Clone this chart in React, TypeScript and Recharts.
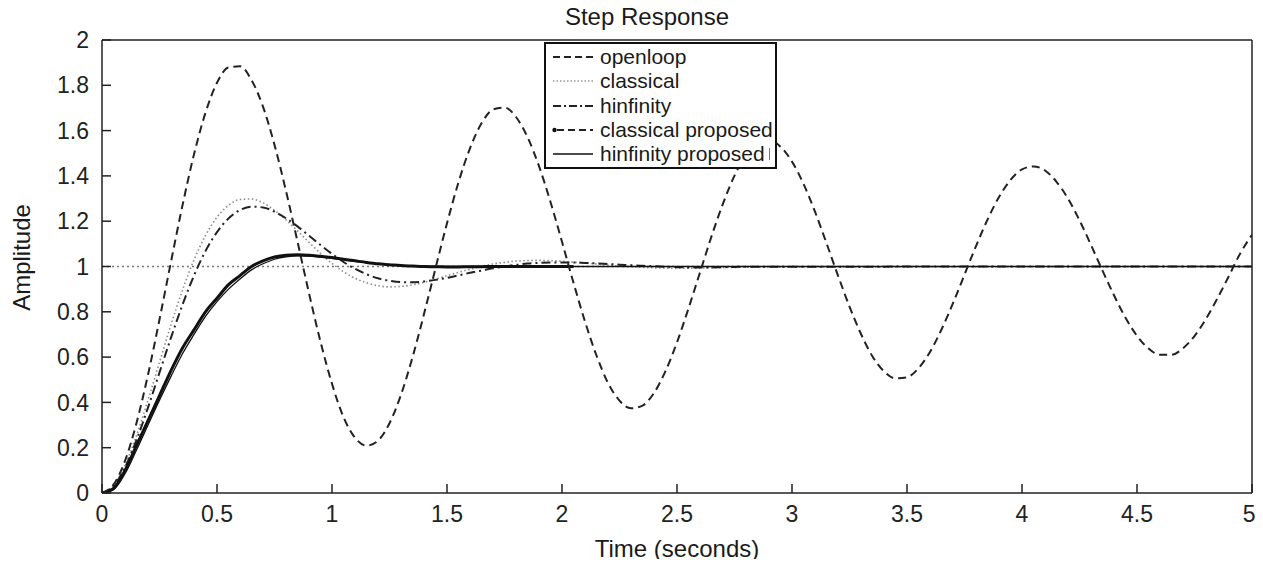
import React from "react";
import { LineChart, Line, XAxis, YAxis, ReferenceLine, Legend } from "recharts";

const FONT = '"Liberation Sans", Arial, Helvetica, sans-serif';

// sample grid of the step response, 0.05 s
const T = Array.from({ length: 101 }, (_, i) => Math.round(i * 5) / 100);
const xTicks = [0, 0.5, 1, 1.5, 2, 2.5, 3, 3.5, 4, 4.5, 5];
const yTicks = [0, 0.2, 0.4, 0.6, 0.8, 1, 1.2, 1.4, 1.6, 1.8, 2];

const openloop = [
  0, 0.037, 0.142, 0.309, 0.522, 0.766, 1.021, 1.27, 1.495, 1.679, 1.811,
  1.879, 1.884, 1.823, 1.706, 1.537, 1.333, 1.11, 0.882, 0.668, 0.482, 0.335,
  0.244, 0.209, 0.231, 0.308, 0.434, 0.599, 0.79, 0.992, 1.191, 1.372, 1.522,
  1.632, 1.693, 1.702, 1.66, 1.571, 1.443, 1.285, 1.109, 0.928, 0.757, 0.607,
  0.486, 0.408, 0.374, 0.386, 0.442, 0.538, 0.665, 0.815, 0.974, 1.133, 1.278,
  1.401, 1.492, 1.546, 1.557, 1.529, 1.463, 1.365, 1.242, 1.103, 0.96, 0.823,
  0.702, 0.603, 0.537, 0.506, 0.511, 0.551, 0.623, 0.722, 0.838, 0.964, 1.09,
  1.207, 1.307, 1.382, 1.429, 1.442, 1.424, 1.374, 1.3, 1.204, 1.095, 0.982,
  0.873, 0.774, 0.694, 0.638, 0.61, 0.61, 0.639, 0.693, 0.769, 0.86, 0.959,
  1.06, 1.14,
];

const classical = [
  0, 0.033, 0.123, 0.254, 0.41, 0.577, 0.743, 0.896, 1.029, 1.137, 1.218,
  1.27, 1.296, 1.298, 1.281, 1.248, 1.206, 1.157, 1.107, 1.058, 1.014, 0.977,
  0.948, 0.928, 0.915, 0.91, 0.912, 0.919, 0.93, 0.944, 0.959, 0.974, 0.988,
  1.0, 1.011, 1.018, 1.024, 1.026, 1.027, 1.026, 1.023, 1.019, 1.015, 1.011,
  1.006, 1.002, 0.999, 0.996, 0.994, 0.993, 0.992, 0.992, 0.993, 0.994, 0.995,
  0.996, 0.997,
];

const hinfinity = [
  0, 0.031, 0.113, 0.234, 0.377, 0.532, 0.686, 0.831, 0.96, 1.068, 1.152,
  1.212, 1.249, 1.264, 1.261, 1.242, 1.213, 1.177, 1.136, 1.095, 1.056, 1.02,
  0.99, 0.966, 0.948, 0.937, 0.931, 0.93, 0.934, 0.941, 0.95, 0.961, 0.972,
  0.982, 0.992, 1.0, 1.007, 1.013, 1.016, 1.018, 1.018, 1.018, 1.016, 1.014,
  1.011, 1.008, 1.006, 1.003, 1.001, 0.999, 0.997, 0.996, 0.996, 0.996, 0.997,
  0.998, 0.999,
];

const classicalProposed = [
  0, 0.02, 0.1, 0.21, 0.32, 0.43, 0.54, 0.64, 0.72, 0.8, 0.86, 0.92, 0.96, 1.0,
  1.025, 1.042, 1.05, 1.052, 1.05, 1.045, 1.04, 1.032, 1.025, 1.018, 1.012,
  1.008, 1.004, 1.002, 1.0, 0.999, 0.998, 0.998, 0.999, 0.999, 1.0, 1.0, 1.0,
  1.0, 1.0, 1.0, 1.0, 1.0,
];

const hinfinityProposed = [
  0, 0.015, 0.085, 0.19, 0.3, 0.41, 0.515, 0.615, 0.7, 0.78, 0.845, 0.9,
  0.945, 0.985, 1.012, 1.032, 1.043, 1.047, 1.046, 1.042, 1.036, 1.03, 1.023,
  1.017, 1.012, 1.008, 1.005, 1.003, 1.001, 1.0, 1.0,
];

// value the settled curves sit at when the time axis ends
const settleEnd = { t: 5, y: 1 };

const pts = (vals: number[]) => vals.map((y, i) => ({ t: T[i], y }));

const openloopData = pts(openloop);
const classicalData = [...pts(classical), settleEnd];
const hinfinityData = [...pts(hinfinity), settleEnd];
const classicalProposedData = pts(classicalProposed);
const hinfinityProposedData = [...pts(hinfinityProposed), settleEnd];

const legendItems = [
  { name: "openloop", kind: "dash" },
  { name: "classical", kind: "dot" },
  { name: "hinfinity", kind: "dashdot" },
  { name: "classical proposed", kind: "markdash" },
  { name: "hinfinity proposed", kind: "solid" },
];

function Sample({ kind }: { kind: string }) {
  return (
    <svg width={42} height={12} style={{ display: "block" }}>
      {kind === "dash" && (
        <line x1={1} y1={6} x2={41} y2={6} stroke="#222" strokeWidth={2} strokeDasharray="7 4" />
      )}
      {kind === "dot" && (
        <line x1={1} y1={6} x2={41} y2={6} stroke="#999" strokeWidth={1.5} strokeDasharray="1.5 2" />
      )}
      {kind === "dashdot" && (
        <line x1={1} y1={6} x2={41} y2={6} stroke="#222" strokeWidth={2} strokeDasharray="8 3 2 3" />
      )}
      {kind === "markdash" && (
        <g>
          <circle cx={2.5} cy={6} r={2.2} fill="#111" />
          <line x1={5} y1={6} x2={41} y2={6} stroke="#222" strokeWidth={2} strokeDasharray="7 4" />
        </g>
      )}
      {kind === "solid" && (
        <line x1={1} y1={6} x2={41} y2={6} stroke="#111" strokeWidth={1.4} />
      )}
    </svg>
  );
}

function StepLegend() {
  return (
    <div
      style={{
        boxSizing: "border-box",
        width: 233,
        height: 127,
        border: "2px solid #111",
        background: "#fff",
        paddingTop: 1,
        position: "relative",
        fontFamily: FONT,
        fontSize: 21,
        color: "#1a1a1a",
      }}
    >
      {legendItems.map((it) => (
        <div
          key={it.name}
          style={{ display: "flex", alignItems: "center", height: 24.3, paddingLeft: 6 }}
        >
          <Sample kind={it.kind} />
          <span style={{ marginLeft: 6, lineHeight: "24px", whiteSpace: "nowrap" }}>{it.name}</span>
        </div>
      ))}
      <div
        style={{ position: "absolute", left: 223, top: 104, width: 1, height: 12, background: "#777" }}
      />
    </div>
  );
}

export default function App() {
  const tickStyle = { fill: "#222", fontSize: 23, fontFamily: FONT };
  return (
    <div style={{ position: "relative", width: 1247, height: 551 }}>
      <LineChart width={1247} height={551} margin={{ top: 31, right: 2, left: 0, bottom: 0 }}>
        <XAxis
          dataKey="t"
          type="number"
          domain={[0, 5]}
          ticks={xTicks}
          allowDataOverflow
          height={66}
          tickSize={-9}
          tickMargin={22}
          tick={tickStyle}
          stroke="#222"
          strokeWidth={1.5}
        />
        <XAxis
          xAxisId="top"
          orientation="top"
          type="number"
          domain={[0, 5]}
          ticks={xTicks}
          allowDataOverflow
          height={1}
          tickSize={-9}
          tick={false}
          stroke="#222"
          strokeWidth={1.5}
        />
        <YAxis
          type="number"
          domain={[0, 2]}
          ticks={yTicks}
          allowDataOverflow
          width={94}
          tickSize={-9}
          tickMargin={22}
          tick={tickStyle}
          stroke="#222"
          strokeWidth={1.5}
        />
        <YAxis
          yAxisId="right"
          orientation="right"
          type="number"
          domain={[0, 2]}
          ticks={yTicks}
          allowDataOverflow
          width={1}
          tickSize={-9}
          tick={false}
          stroke="#222"
          strokeWidth={1.5}
        />
        <ReferenceLine y={1} stroke="#777" strokeWidth={1.5} strokeDasharray="2 3" />
        <Line
          data={classicalData}
          dataKey="y"
          name="classical"
          type="monotone"
          stroke="#8a8a8a"
          strokeWidth={1.6}
          strokeDasharray="1.5 2.5"
          dot={false}
          activeDot={false}
          isAnimationActive={false}
        />
        <Line
          data={hinfinityData}
          dataKey="y"
          name="hinfinity"
          type="monotone"
          stroke="#222"
          strokeWidth={2}
          strokeDasharray="9 4 2 4"
          dot={false}
          activeDot={false}
          isAnimationActive={false}
        />
        <Line
          data={hinfinityProposedData}
          dataKey="y"
          name="hinfinity proposed"
          type="monotone"
          stroke="#111"
          strokeWidth={1.3}
          dot={false}
          activeDot={false}
          isAnimationActive={false}
        />
        <Line
          data={classicalProposedData}
          dataKey="y"
          name="classical proposed"
          type="monotone"
          stroke="#111"
          strokeWidth={3}
          dot={false}
          activeDot={false}
          isAnimationActive={false}
        />
        <Line
          data={openloopData}
          dataKey="y"
          name="openloop"
          type="monotone"
          stroke="#222"
          strokeWidth={2}
          strokeDasharray="8 5"
          dot={false}
          activeDot={false}
          isAnimationActive={false}
        />
        <Legend
          layout="vertical"
          align="center"
          verticalAlign="middle"
          content={() => <StepLegend />}
          wrapperStyle={{ left: 536, top: 34, width: 233, height: 127 }}
        />
      </LineChart>
      {/* overlay in page coordinates for the title and axis names */}
      <svg
        width={1263}
        height={567}
        style={{ position: "absolute", left: -8, top: -8, pointerEvents: "none", overflow: "visible" }}
      >
        <text x={647} y={25} textAnchor="middle" fontSize={24} fontFamily={FONT} fill="#1a1a1a">
          Step Response
        </text>
        <text x={677} y={557} textAnchor="middle" fontSize={24} fontFamily={FONT} fill="#1a1a1a">
          Time (seconds)
        </text>
        <text
          transform="translate(29.5,257.5) rotate(-90)"
          textAnchor="middle"
          fontSize={24}
          fontFamily={FONT}
          fill="#1a1a1a"
        >
          Amplitude
        </text>
      </svg>
    </div>
  );
}
